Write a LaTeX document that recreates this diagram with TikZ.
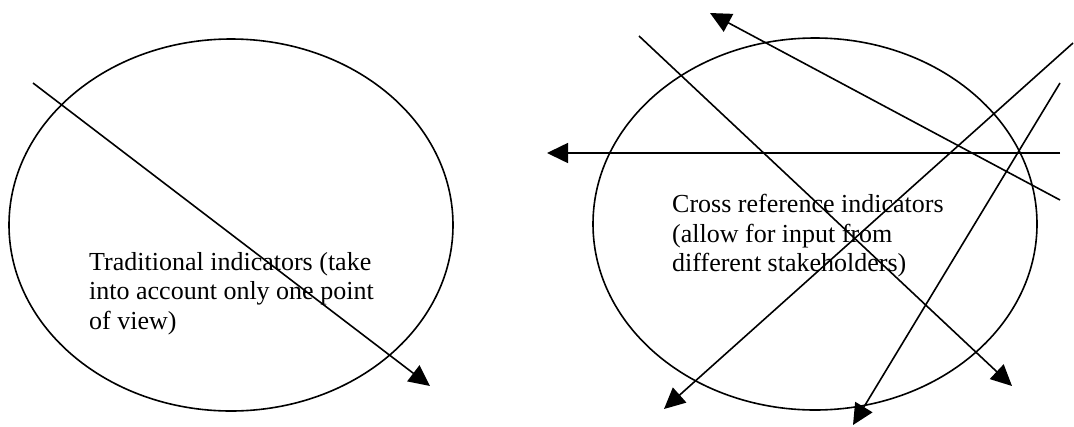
\documentclass[tikz,border=0pt]{standalone}
\usepackage{fontspec}
\setmainfont{Liberation Serif}
\usetikzlibrary{arrows.meta,shapes.geometric}
\tikzset{
  oval/.style={draw, ellipse, line width=1.6pt, minimum width=444pt, minimum height=372pt, inner sep=0pt},
  arr/.style={line width=1.6pt, -{Triangle[length=21pt,width=20pt]}},
  lbl/.style={anchor=north west, align=left, inner sep=0pt, font=\fontsize{26}{29.5}\selectfont}
}
\begin{document}
\begin{tikzpicture}[x=1pt,y=-1pt]
\useasboundingbox[fill=white] (0,0) rectangle (1074,426);
\node[oval] (e1) at (231,225) {};
\node[oval] (e2) at (815,224) {};
\node[lbl] (t1) at (89,252) {Traditional indicators (take\\into account only one point\\of view)};
\node[lbl] (t2) at (672,194) {Cross reference indicators\\(allow for input from\\different stakeholders)};
\coordinate (a1s) at (33,83);   \coordinate (a1e) at (430,386);
\coordinate (b1s) at (639,36);  \coordinate (b1e) at (1012,386);
\coordinate (b2s) at (1060,200);\coordinate (b2e) at (710,13);
\coordinate (b3s) at (1060,153);\coordinate (b3e) at (547,153);
\coordinate (b4s) at (1073,43); \coordinate (b4e) at (664,409);
\coordinate (b5s) at (1060,83); \coordinate (b5e) at (853,425);
\draw[arr] (a1s) -- (a1e);
\draw[arr] (b1s) -- (b1e);
\draw[arr] (b2s) -- (b2e);
\draw[arr] (b3s) -- (b3e);
\draw[arr] (b4s) -- (b4e);
\draw[arr] (b5s) -- (b5e);
\end{tikzpicture}
\end{document}
